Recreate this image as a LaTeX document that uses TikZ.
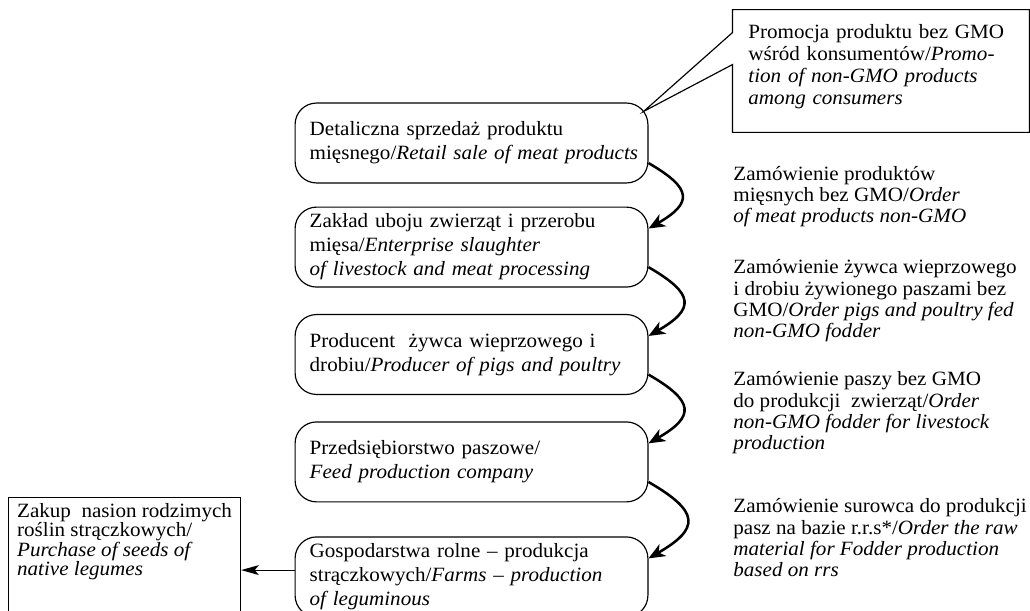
\documentclass[tikz,border=0pt]{standalone}
\usepackage{fontspec}
\setmainfont{Liberation Serif}[FakeStretch=1.04]
\usetikzlibrary{positioning,arrows.meta}

\begin{document}
\begin{tikzpicture}[x=0.513pt, y=0.513pt, auto]
  \tikzstyle{block} = [rectangle, draw, line width=0.6pt, rounded corners=11pt, minimum width=181pt, minimum height=41pt, text width=166pt, align=left, inner sep=0pt, font=\fontsize{10.4}{12.3}\selectfont]
  \tikzstyle{note} = [rectangle, minimum width=152pt, minimum height=62.6pt, text width=136pt, align=left, inner sep=0pt, font=\fontsize{10.4}{11.3}\selectfont]
  \tikzstyle{seedbox} = [rectangle, draw, line width=0.6pt, anchor=north west, minimum width=119pt, align=left, inner xsep=3pt, inner ysep=3pt, font=\fontsize{10.4}{10}\selectfont]
  \tikzstyle{order} = [anchor=base west, align=left, inner sep=0pt, font=\fontsize{10.4}{11}\selectfont]
  \tikzstyle{line} = [draw, -{Stealth[length=8.5pt, width=7pt, inset=2.5pt]}, line width=1.3pt]
  \tikzstyle{thinline} = [draw, -{Stealth[length=9pt, width=5pt, inset=2pt]}, line width=0.6pt]

  \useasboundingbox (0,0) rectangle (1030,-611);
  \clip (0,0) rectangle (1030,-611);

  % chain of the supply
  \node [block] (retail) at (471.5,-143) {Detaliczna sprzedaż produktu\\\mbox{mięsnego/\textit{Retail sale of meat products}}};
  \node [block, below of=retail, node distance=53.4pt] (slaughter) {Zakład uboju zwierząt i przerobu\\mięsa/\textit{Enterprise slaughter}\\\textit{of livestock and meat processing}};
  \node [block, below of=slaughter, node distance=55.1pt] (producer) {Producent\ \ żywca wieprzowego i\\drobiu/\textit{Producer of pigs and poultry}};
  \node [block, below of=producer, node distance=55.1pt] (feed) {Przedsiębiorstwo paszowe/\\\textit{Feed production company}};
  \node [block, below of=feed, node distance=59pt] (farms) {Gospodarstwa rolne – produkcja\\strączkowych/\textit{Farms – production}\\\textit{of leguminous}};

  \node [seedbox] (seeds) at (8,-497) {Zakup\ \ nasion rodzimych\\roślin strączkowych/\\\textit{Purchase of seeds of}\\\textit{native legumes}\rule[-26pt]{0pt}{26pt}};

  % promotion callout
  \node [note] (promo) at (881,-71) {Promocja produktu bez GMO\\wśród konsumentów/\textit{Promo-}\\\textit{tion of non-GMO products}\\\textit{among consumers}\rule[-7pt]{0pt}{7pt}};
  \coordinate (tip) at ([xshift=-2.5pt, yshift=-4.6pt]retail.north east);
  \draw [line width=0.6pt] (promo.north west) -- ([yshift=-11.8pt]promo.north west) -- (tip)
    -- ([yshift=-28.2pt]promo.north west) -- (promo.south west) -- (promo.south east)
    -- (promo.north east) -- cycle;

  % orders (anchored at the baseline of the last line)
  \node [order] (ord1) at (733,-223) {Zamówienie produktów\\mięsnych bez GMO/\textit{Order}\\\textit{of meat products non-GMO}};
  \node [order] (ord2) at (733,-338) {Zamówienie żywca wieprzowego\\i drobiu żywionego paszami bez\\GMO/\textit{Order pigs and poultry fed}\\\textit{non-GMO fodder}};
  \node [order] (ord3) at (733,-450) {Zamówienie paszy bez GMO\\do produkcji\ \ zwierząt/\textit{Order}\\\textit{non-GMO fodder for livestock}\\\textit{production}};
  \node [order] (ord4) at (733,-577) {Zamówienie surowca do produkcji\\pasz na bazie r.r.s*/\textit{Order the raw}\\\textit{material for Fodder production}\\\textit{based on rrs}};

  \path [line] ([yshift=-10.3pt]retail.east) to[out=-30, in=30, looseness=2] ([yshift=9.5pt]slaughter.east);
  \path [line] ([yshift=-10.3pt]slaughter.east) to[out=-30, in=30, looseness=2] ([yshift=9.5pt]producer.east);
  \path [line] ([yshift=-10.3pt]producer.east) to[out=-30, in=30, looseness=2] ([yshift=9.5pt]feed.east);
  \path [line] ([yshift=-10.3pt]feed.east) to[out=-30, in=30, looseness=2] ([yshift=9.5pt]farms.east);
  \path [thinline] ([yshift=3.5pt]farms.west) -- ([yshift=3.5pt]farms.west -| seeds.east);
\end{tikzpicture}
\end{document}
